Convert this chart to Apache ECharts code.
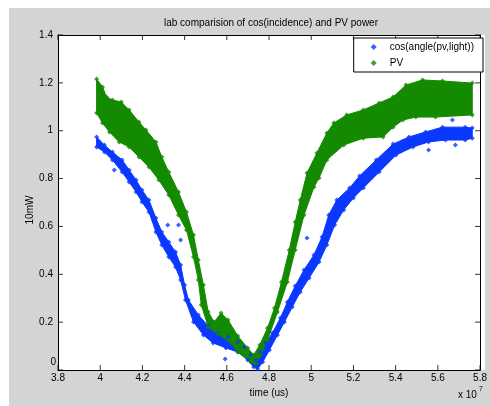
<!DOCTYPE html>
<html><head><meta charset="utf-8">
<script src="https://cdn.jsdelivr.net/npm/echarts@6/dist/echarts.min.js"></script>
<style>html,body{margin:0;padding:0;background:#fff}#c{width:490px;height:406px}</style>
</head><body><div id="c"></div>
<script>
// x values are in units of 10^7 us, y values in 10mW
const xMin = 3.8, xMax = 5.8, xStep = 0.2;
const yMin = 0, yMax = 1.4, yStep = 0.2;
const xTickValues = [3.8, 4.0, 4.2, 4.4, 4.6, 4.8, 5.0, 5.2, 5.4, 5.6, 5.8];
const yTickValues = [0, 0.2, 0.4, 0.6, 0.8, 1.0, 1.2, 1.4];
const seriesNames = ['cos(angle(pv,light))', 'PV'];

// cos(angle(pv,light)) band: upper and lower edges of the dense point cloud
const cosUpper = [[3.983,0.974],[4.020,0.940],[4.058,0.911],[4.104,0.878],[4.137,0.836],[4.170,0.794],[4.198,0.752],[4.231,0.710],[4.264,0.635],[4.292,0.577],[4.325,0.535],[4.357,0.493],[4.381,0.439],[4.400,0.355],[4.418,0.293],[4.465,0.230],[4.512,0.184],[4.559,0.155],[4.606,0.138],[4.652,0.117],[4.685,0.096],[4.713,0.063],[4.737,0.042],[4.756,0.075],[4.784,0.113],[4.816,0.155],[4.854,0.217],[4.887,0.284],[4.924,0.351],[4.966,0.418],[5.013,0.481],[5.051,0.556],[5.083,0.648],[5.121,0.710],[5.182,0.761],[5.229,0.811],[5.308,0.878],[5.388,0.944],[5.463,0.974],[5.542,0.995],[5.622,1.015],[5.730,1.015],[5.763,1.011]];
const cosLower = [[3.983,0.932],[4.020,0.911],[4.058,0.878],[4.104,0.827],[4.137,0.786],[4.170,0.744],[4.198,0.702],[4.231,0.660],[4.264,0.577],[4.292,0.522],[4.325,0.472],[4.357,0.430],[4.381,0.376],[4.404,0.293],[4.442,0.201],[4.489,0.146],[4.535,0.113],[4.596,0.092],[4.652,0.075],[4.699,0.042],[4.727,0.013],[4.746,0.004],[4.770,0.033],[4.802,0.084],[4.840,0.146],[4.873,0.201],[4.910,0.263],[4.948,0.326],[4.990,0.384],[5.037,0.451],[5.074,0.522],[5.111,0.606],[5.154,0.669],[5.200,0.719],[5.247,0.761],[5.322,0.827],[5.402,0.898],[5.482,0.932],[5.556,0.953],[5.636,0.961],[5.730,0.961],[5.763,0.969]];
const cosOutliers = [[4.067,0.836],[4.320,0.606],[4.371,0.606],[4.381,0.543],[4.592,0.046],[4.980,0.552],[5.556,0.919],[5.683,0.940],[5.669,1.045]];

// PV band
const pvUpper = [[3.983,1.216],[4.011,1.183],[4.030,1.141],[4.058,1.128],[4.100,1.120],[4.137,1.087],[4.184,1.036],[4.217,1.003],[4.264,0.953],[4.292,0.890],[4.325,0.827],[4.371,0.744],[4.409,0.660],[4.442,0.564],[4.465,0.460],[4.489,0.355],[4.512,0.242],[4.540,0.201],[4.573,0.238],[4.606,0.209],[4.652,0.142],[4.699,0.092],[4.727,0.063],[4.756,0.104],[4.793,0.176],[4.826,0.259],[4.859,0.368],[4.896,0.501],[4.924,0.618],[4.948,0.710],[4.980,0.823],[5.027,0.907],[5.074,0.990],[5.107,1.032],[5.168,1.066],[5.247,1.087],[5.322,1.116],[5.388,1.141],[5.449,1.191],[5.528,1.212],[5.622,1.208],[5.763,1.199]];
const pvLower = [[3.983,1.074],[4.011,1.032],[4.044,0.995],[4.090,0.953],[4.137,0.932],[4.184,0.890],[4.231,0.848],[4.278,0.794],[4.325,0.731],[4.371,0.648],[4.409,0.585],[4.442,0.472],[4.465,0.376],[4.479,0.272],[4.512,0.180],[4.559,0.150],[4.620,0.113],[4.652,0.075],[4.713,0.033],[4.737,0.025],[4.760,0.063],[4.793,0.125],[4.840,0.242],[4.887,0.368],[4.924,0.501],[4.966,0.648],[5.013,0.765],[5.037,0.802],[5.074,0.878],[5.154,0.940],[5.247,0.969],[5.341,0.974],[5.388,1.015],[5.435,1.045],[5.496,1.057],[5.589,1.057],[5.763,1.066]];

const BLUE = '#0a38ff', GREEN = '#138a00', GRAY = '#d4d4d4';
const FONT = 'Liberation Sans, Arial, sans-serif';
const TICK_LEN = 5;

function band(upper, lower, color) {
  return {
    type: 'custom', silent: true, clip: true,
    data: [[upper[0][0], upper[0][1]]],
    encode: {x: 0, y: 1},
    renderItem: function (params, api) {
      const pts = upper.map(p => api.coord(p)).concat(lower.slice().reverse().map(p => api.coord(p)));
      return {type: 'polygon', shape: {points: pts}, style: {fill: color, stroke: color, lineWidth: 1}};
    }
  };
}
// inward tick marks on the four sides of the box, drawn as thin rect markers at the tick values
function tickMarks(data, size, offset) {
  return {type: 'scatter', silent: true, clip: false, z: 6, symbol: 'rect',
          symbolSize: size, symbolOffset: offset, itemStyle: {color: '#000'}, data: data};
}
function axisLine() { return {show: true, onZero: false, lineStyle: {color: '#000', width: 1}}; }
function grayRect(x, y, w, h) { return {type: 'rect', z: -10, silent: true, shape: {x: x, y: y, width: w, height: h}, style: {fill: GRAY}}; }

const chart = echarts.init(document.getElementById('c'), null, {renderer: 'canvas'});
chart.setOption({
  backgroundColor: '#fff',
  animation: false,
  textStyle: {fontFamily: FONT},
  graphic: [
    grayRect(9, 8, 481, 27), grayRect(9, 35, 49, 335), grayRect(485, 35, 5, 335), grayRect(9, 370, 481, 36),
    {type: 'text', x: 271, y: 23, style: {text: 'lab comparision of cos(incidence) and PV power', fontSize: 10, fill: '#000', fontFamily: FONT, align: 'center', verticalAlign: 'middle'}},
    {type: 'text', x: 269, y: 393, style: {text: 'time (us)', fontSize: 10, fill: '#000', fontFamily: FONT, align: 'center', verticalAlign: 'middle'}},
    {type: 'text', x: 458, y: 395, style: {text: 'x 10', fontSize: 10, fill: '#000', fontFamily: FONT, verticalAlign: 'middle'}},
    {type: 'text', x: 479, y: 389, style: {text: '7', fontSize: 7, fill: '#000', fontFamily: FONT, verticalAlign: 'middle'}},
    {type: 'text', x: 30, y: 210, rotation: Math.PI / 2, style: {text: '10mW', fontSize: 10, fill: '#000', fontFamily: FONT, align: 'center', verticalAlign: 'middle'}}
  ],
  grid: {left: 58, right: 5, top: 35, bottom: 36, show: false},
  legend: {
    data: seriesNames, orient: 'vertical', right: 7, top: 38, z: 20,
    backgroundColor: '#fff', borderColor: '#000', borderWidth: 1, borderRadius: 0,
    padding: [3, 9, 3, 17], itemGap: 4, itemWidth: 6, itemHeight: 6, icon: 'diamond',
    textStyle: {fontSize: 10, color: '#000', fontFamily: FONT, lineHeight: 12, padding: [0, 0, 0, 8]}
  },
  xAxis: [
    {type: 'value', min: xMin, max: xMax, interval: xStep, position: 'bottom',
     axisLine: axisLine(), splitLine: {show: false}, axisTick: {show: false},
     axisLabel: {fontSize: 10, color: '#000', margin: 3, fontFamily: FONT}},
    {type: 'value', min: xMin, max: xMax, interval: xStep, position: 'top',
     axisLine: axisLine(), splitLine: {show: false}, axisTick: {show: false},
     axisLabel: {show: false}}
  ],
  yAxis: [
    {type: 'value', min: yMin, max: yMax, interval: yStep, position: 'left',
     axisLine: axisLine(), splitLine: {show: false}, axisTick: {show: false},
     axisLabel: {fontSize: 10, color: '#000', margin: 5, fontFamily: FONT,
       formatter: v => v === 0 ? '{z|0}' : String(+v.toFixed(1)),
       rich: {z: {fontSize: 10, color: '#000', padding: [0, -3, 16, 0], fontFamily: FONT}}}},
    {type: 'value', min: yMin, max: yMax, interval: yStep, position: 'right',
     axisLine: axisLine(), splitLine: {show: false}, axisTick: {show: false},
     axisLabel: {show: false}}
  ],
  series: [
    band(cosUpper, cosLower, BLUE),
    {name: seriesNames[0], type: 'scatter', symbol: 'diamond', symbolSize: 5, clip: true,
     itemStyle: {color: BLUE}, data: cosUpper.concat(cosLower, cosOutliers)},
    band(pvUpper, pvLower, GREEN),
    {name: seriesNames[1], type: 'scatter', symbol: 'diamond', symbolSize: 5, clip: true,
     itemStyle: {color: GREEN}, data: pvUpper.concat(pvLower)},
    tickMarks(xTickValues.map(v => [v, yMin]), [1, TICK_LEN], [0, -TICK_LEN / 2]),
    tickMarks(xTickValues.map(v => [v, yMax]), [1, TICK_LEN], [0, TICK_LEN / 2]),
    tickMarks(yTickValues.map(v => [xMin, v]), [TICK_LEN, 1], [TICK_LEN / 2, 0]),
    tickMarks(yTickValues.map(v => [xMax, v]), [TICK_LEN, 1], [-TICK_LEN / 2, 0])
  ]
});
</script></body></html>
